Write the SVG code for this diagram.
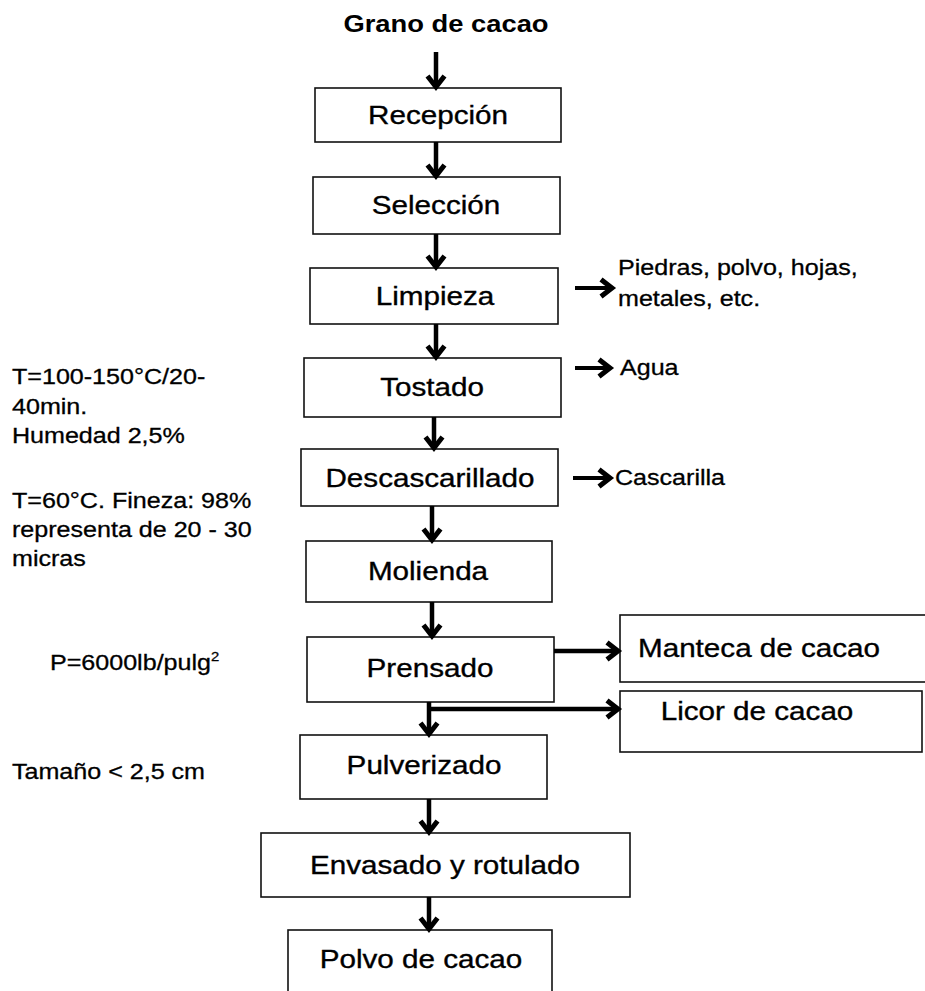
<svg xmlns="http://www.w3.org/2000/svg" width="925" height="991" viewBox="0 0 925 991">
<defs>
<style>
.box{fill:#fff;stroke:#111;stroke-width:1.6}
.t{font-family:"Liberation Sans",Arial,sans-serif;font-size:26px;fill:#000;stroke:#000;stroke-width:0.35}
.tm{text-anchor:middle}
.s{font-family:"Liberation Sans",Arial,sans-serif;font-size:22px;fill:#000;stroke:#000;stroke-width:0.3}
.title{font-family:"Liberation Sans",Arial,sans-serif;font-size:24px;font-weight:bold;fill:#000;text-anchor:middle}
.c{stroke:#000;stroke-width:4.5;fill:none;marker-end:url(#ah)}
.cs{stroke:#000;stroke-width:4;fill:none;marker-end:url(#ah)}
</style>
<marker id="ah" viewBox="0 0 24 24" markerWidth="24" markerHeight="24" refX="19" refY="12" orient="auto" markerUnits="userSpaceOnUse">
<path d="M8,3.5 L19,12 L8,20.5" fill="none" stroke="#000" stroke-width="5"/>
</marker>
</defs>

<text class="title" transform="translate(446,32) scale(1.14,1)">Grano de cacao</text>

<g id="recepcion"><rect class="box" x="315" y="88" width="246" height="54"/><text class="t tm" transform="translate(438,124) scale(1.14,1)">Recepción</text></g>
<g id="seleccion"><rect class="box" x="313" y="177" width="247" height="57"/><text class="t tm" transform="translate(436,214) scale(1.14,1)">Selección</text></g>
<g id="limpieza"><rect class="box" x="310" y="268" width="248" height="56"/><text class="t tm" transform="translate(435,305) scale(1.14,1)">Limpieza</text></g>
<g id="tostado"><rect class="box" x="304" y="358" width="257" height="59"/><text class="t tm" transform="translate(432,396) scale(1.14,1)">Tostado</text></g>
<g id="descascarillado"><rect class="box" x="301" y="449" width="257" height="57"/><text class="t tm" transform="translate(430,487) scale(1.14,1)">Descascarillado</text></g>
<g id="molienda"><rect class="box" x="306" y="541" width="246" height="61"/><text class="t tm" transform="translate(428,580) scale(1.14,1)">Molienda</text></g>
<g id="prensado"><rect class="box" x="307" y="637" width="247" height="65"/><text class="t tm" transform="translate(430,677) scale(1.14,1)">Prensado</text></g>
<g id="pulverizado"><rect class="box" x="300" y="735" width="247" height="64"/><text class="t tm" transform="translate(424,774) scale(1.14,1)">Pulverizado</text></g>
<g id="envasado"><rect class="box" x="261" y="833" width="369" height="64"/><text class="t tm" transform="translate(445,874) scale(1.14,1)">Envasado y rotulado</text></g>
<g id="polvo"><rect class="box" x="288" y="930" width="264" height="70"/><text class="t tm" transform="translate(421,968) scale(1.14,1)">Polvo de cacao</text></g>
<g id="manteca"><rect class="box" x="620" y="615" width="320" height="67"/><text class="t" transform="translate(638,657) scale(1.14,1)">Manteca de cacao</text></g>
<g id="licor"><rect class="box" x="620" y="691" width="302" height="61"/><text class="t tm" transform="translate(757,720) scale(1.14,1)">Licor de cacao</text></g>

<g id="outputs">
<text class="s" transform="translate(618,275) scale(1.14,1)">Piedras, polvo, hojas,</text>
<text class="s" transform="translate(618,306) scale(1.14,1)">metales, etc.</text>
<text class="s" transform="translate(620,375) scale(1.14,1)">Agua</text>
<text class="s" transform="translate(615,485) scale(1.14,1)">Cascarilla</text>
</g>

<g id="conditions">
<text class="s" transform="translate(12,384) scale(1.14,1)">T=100-150°C/20-</text>
<text class="s" transform="translate(12,414) scale(1.14,1)">40min.</text>
<text class="s" transform="translate(12,443) scale(1.14,1)">Humedad 2,5%</text>
<text class="s" transform="translate(12,508) scale(1.14,1)">T=60°C. Fineza: 98%</text>
<text class="s" transform="translate(12,537) scale(1.14,1)">representa de 20 - 30</text>
<text class="s" transform="translate(12,566) scale(1.14,1)">micras</text>
<text class="s" transform="translate(50,670) scale(1.14,1)">P=6000lb/pulg<tspan font-size="13" dy="-9">2</tspan></text>
<text class="s" transform="translate(12,779) scale(1.14,1)">Tamaño &lt; 2,5 cm</text>
</g>

<g id="connectors">
<line class="c" x1="436" y1="52" x2="436" y2="87"/>
<line class="c" x1="436" y1="142" x2="436" y2="176"/>
<line class="c" x1="436" y1="234" x2="436" y2="267"/>
<line class="c" x1="436" y1="324" x2="436" y2="357"/>
<line class="c" x1="434" y1="417" x2="434" y2="448"/>
<line class="c" x1="432" y1="506" x2="432" y2="540"/>
<line class="c" x1="432" y1="602" x2="432" y2="636"/>
<line class="c" x1="429" y1="702" x2="429" y2="734"/>
<line class="c" x1="429" y1="799" x2="429" y2="832"/>
<line class="c" x1="429" y1="897" x2="429" y2="929"/>
<line class="c" x1="554" y1="651" x2="618" y2="651"/>
<line class="c" x1="427" y1="709" x2="618" y2="709"/>
<line class="cs" x1="575" y1="288" x2="612" y2="288"/>
<line class="cs" x1="575" y1="368" x2="610" y2="368"/>
<line class="cs" x1="573" y1="478" x2="610" y2="478"/>
</g>
</svg>
